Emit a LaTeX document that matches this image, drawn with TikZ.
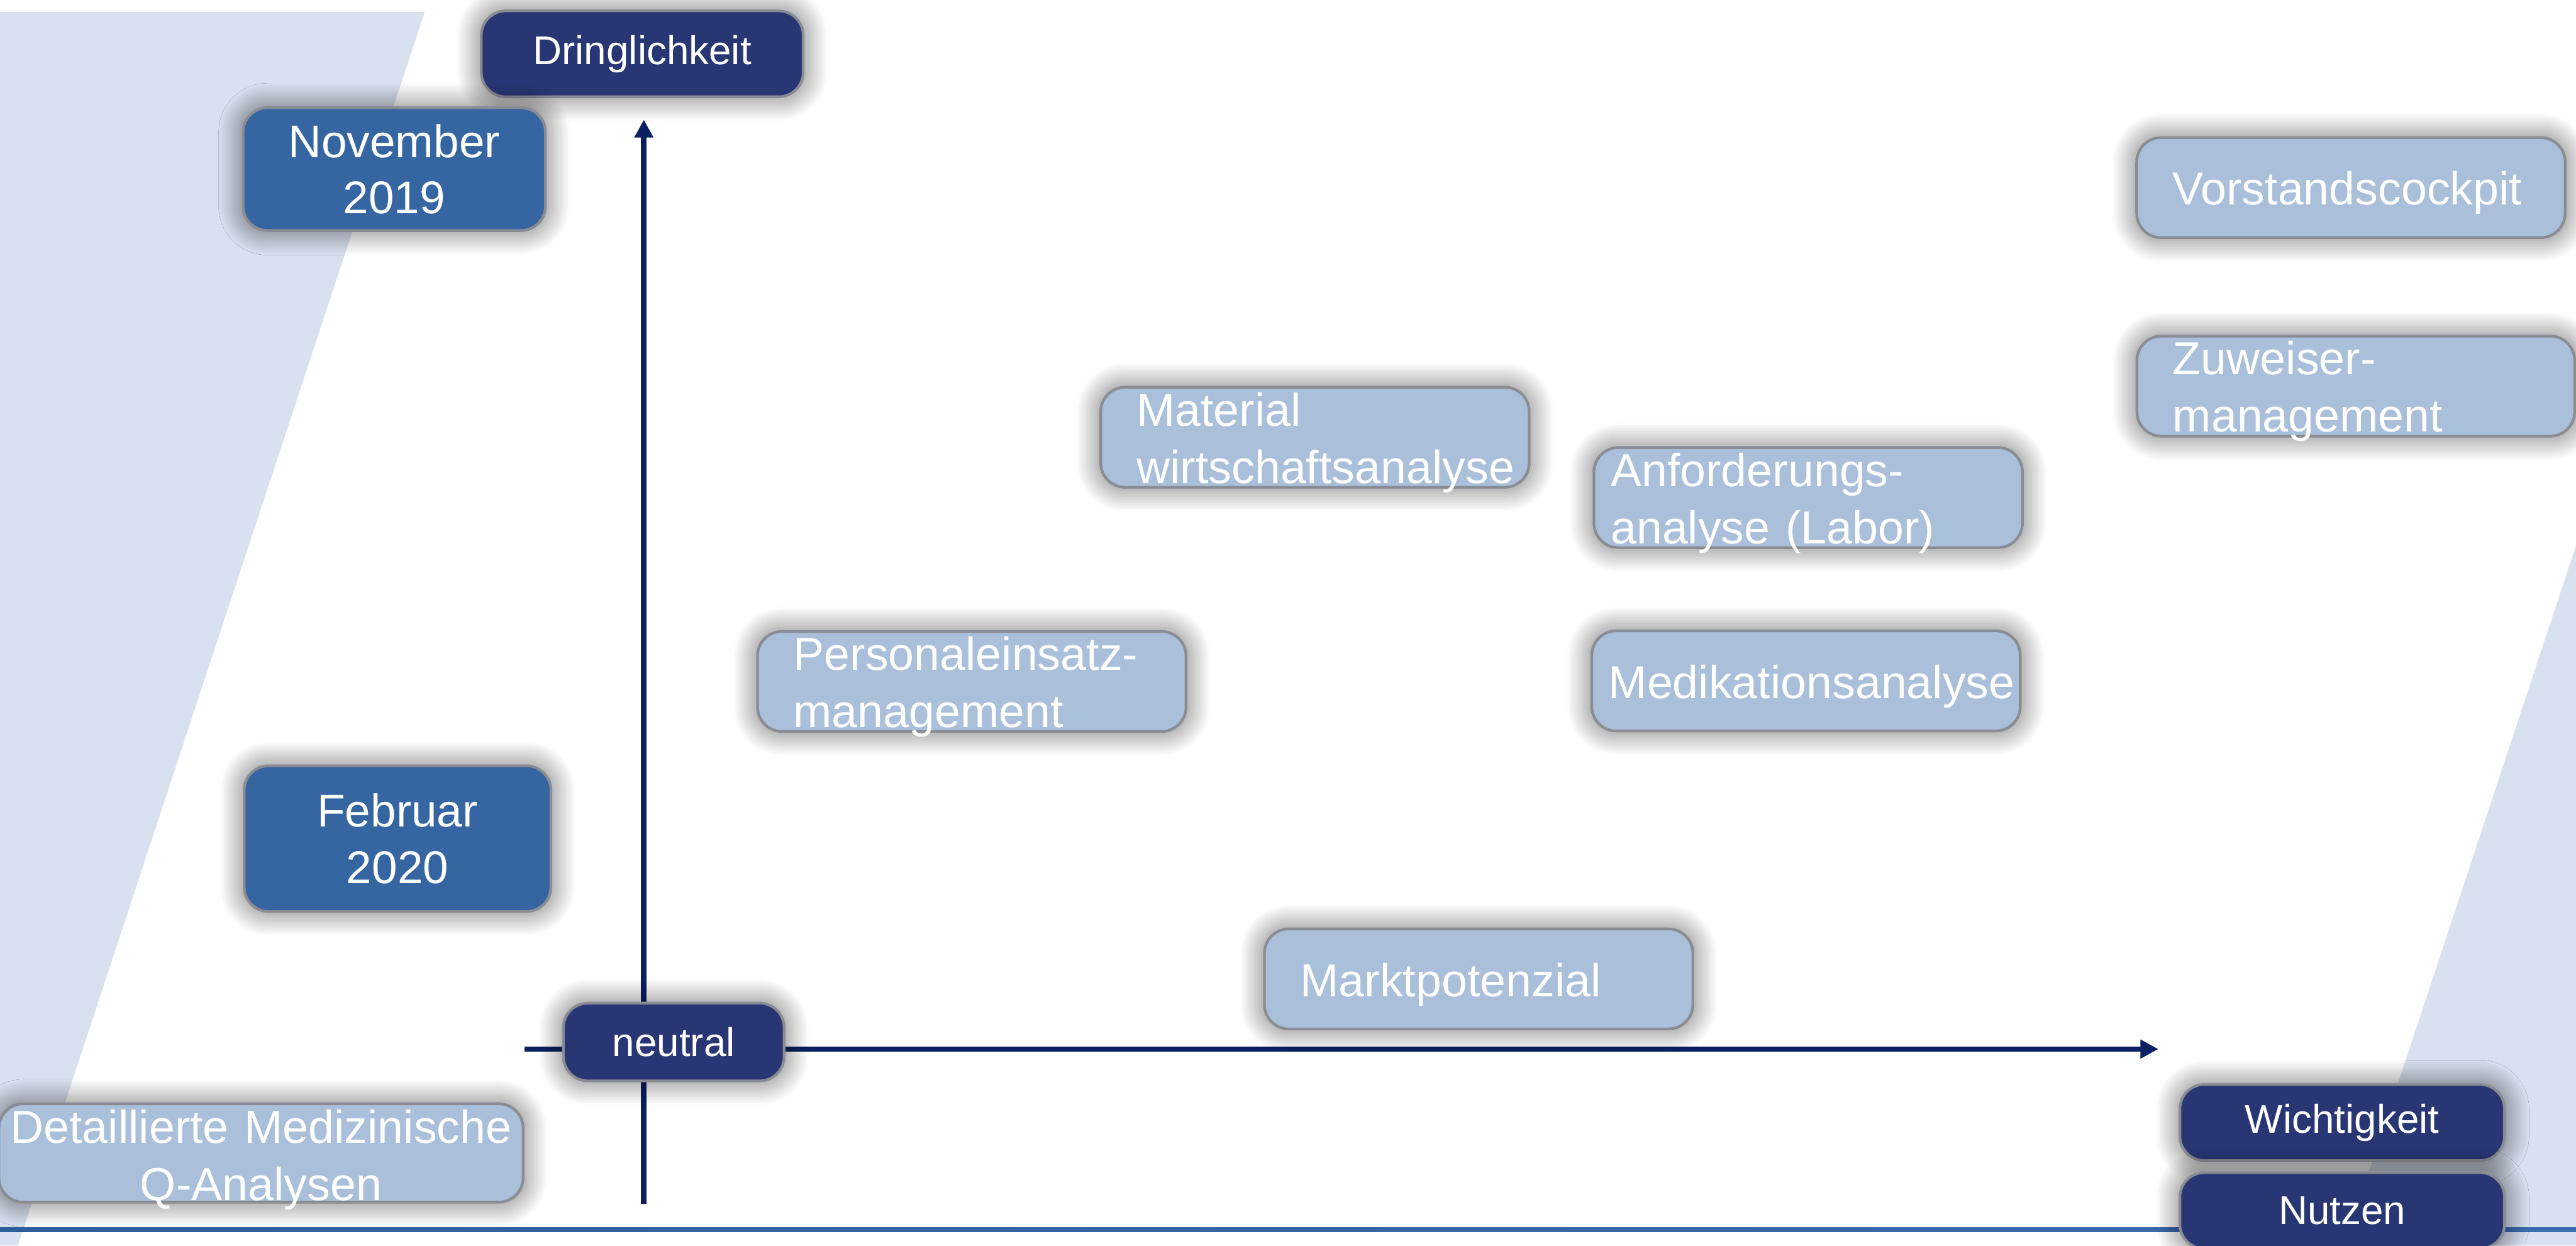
\documentclass[tikz,border=0pt]{standalone}
\usepackage{fontspec}
\setmainfont{Liberation Sans}
\usetikzlibrary{arrows.meta,positioning,shadows.blur}

\definecolor{bandblau}{RGB}{216,225,240}
\definecolor{dunkelblau}{RGB}{40,55,116}
\definecolor{monatblau}{RGB}{53,102,162}
\definecolor{feldblau}{RGB}{169,191,218}
\definecolor{randgrau}{RGB}{137,140,147}
\definecolor{achsblau}{RGB}{10,32,96}
\definecolor{linieblau}{RGB}{46,94,156}
\definecolor{linieblauhell}{RGB}{60,108,176}

\hyphenpenalty=10000

\tikzset{
  kasten/.style={rounded corners=0.45cm, draw=randgrau, line width=0.05cm, text=white,
    blur shadow={shadow xshift=0pt, shadow yshift=0pt, shadow blur radius=0.45cm,
      shadow blur steps=12, shadow opacity=60}},
  titel/.style={kasten, fill=dunkelblau, font=\fontsize{21}{25}\selectfont,
    minimum width=5.92cm, minimum height=1.58cm, inner sep=0pt},
  monat/.style={kasten, fill=monatblau, font=\fontsize{24}{29.5}\selectfont,
    align=center, minimum width=5.56cm, inner sep=0pt},
  feld/.style={kasten, fill=feldblau, font=\fontsize{24.2}{30}\selectfont,
    align=left, minimum width=7.88cm, minimum height=1.84cm,
    inner xsep=0.66cm, inner ysep=0pt, text width=6.56cm,
    text height=0.72cm, text depth=0.08cm},
  zweizeilig/.style={text height=0.62cm, text depth=1.04cm},
  achse/.style={line width=0.1cm, draw=achsblau, -{Triangle[length=0.33cm,width=0.33cm]}}
}

\begin{document}
\begin{tikzpicture}
\useasboundingbox (0,0) rectangle (47.37,22.90);
% hintergrund
\fill[bandblau] (0,22.68) -- (7.81,22.68) -- (0.33,0) -- (0,0) -- cycle;
\fill[bandblau] (47.37,12.87) -- (47.37,0) -- (43.11,0) -- cycle;
\shade[left color=linieblau, right color=linieblauhell] (0,0.25) rectangle (47.37,0.33);
% achsen
\coordinate (yfuss) at (11.84,0.77);
\coordinate (yspitze) at (11.84,20.70);
\coordinate (xfuss) at (9.64,3.61);
\coordinate (xspitze) at (39.69,3.61);
\draw[achse] (yfuss) -- (yspitze);
\draw[achse] (xfuss) -- (xspitze);
% beschriftung
\node[titel] (dring) at (11.81,21.91) {Dringlichkeit};
\node[titel, minimum width=4.06cm, minimum height=1.43cm] (neutral) at (12.39,3.74) {neutral};
\node[titel, minimum width=5.97cm, minimum height=1.40cm] (wicht) at (43.07,2.26) {Wichtigkeit};
\node[titel, minimum width=5.97cm, minimum height=1.40cm, below=0.17cm of wicht] (nutzen) {Nutzen};
\node[monat, minimum height=2.26cm] (nov) at (7.25,19.79) {November\\2019};
\node[monat, minimum width=5.64cm, minimum height=2.68cm] (feb) at (7.31,7.48) {Februar\\2020};
% themen
\node[feld] (vorstand) at (43.23,19.45) {Vorstandscockpit};
\node[feld, zweizeilig, minimum width=8.05cm, text width=6.73cm] (zuweiser) at (43.32,15.80) {Zuweiser-\\management};
\node[feld, zweizeilig] (material) at (24.18,14.86) {Material\\wirtschaftsanalyse};
\node[feld, zweizeilig, inner xsep=0.31cm, text width=7.26cm] (anford) at (33.25,13.75) {Anforderungs-\\analyse (Labor)};
\node[feld, zweizeilig] (personal) at (17.87,10.37) {Personaleinsatz-\\management};
\node[feld, inner xsep=0.31cm, text width=7.26cm] (medik) at (33.21,10.38) {Medikationsanalyse};
\node[feld] (markt) at (27.19,4.90) {Marktpotenzial};
\node[feld, zweizeilig, align=center, minimum width=9.64cm, minimum height=1.81cm, inner xsep=0pt,
  text width=9.64cm, text height=0.62cm, text depth=0.98cm] (detail) at (4.80,1.70) {Detaillierte Medizinische\\Q-Analysen};
\end{tikzpicture}
\end{document}
